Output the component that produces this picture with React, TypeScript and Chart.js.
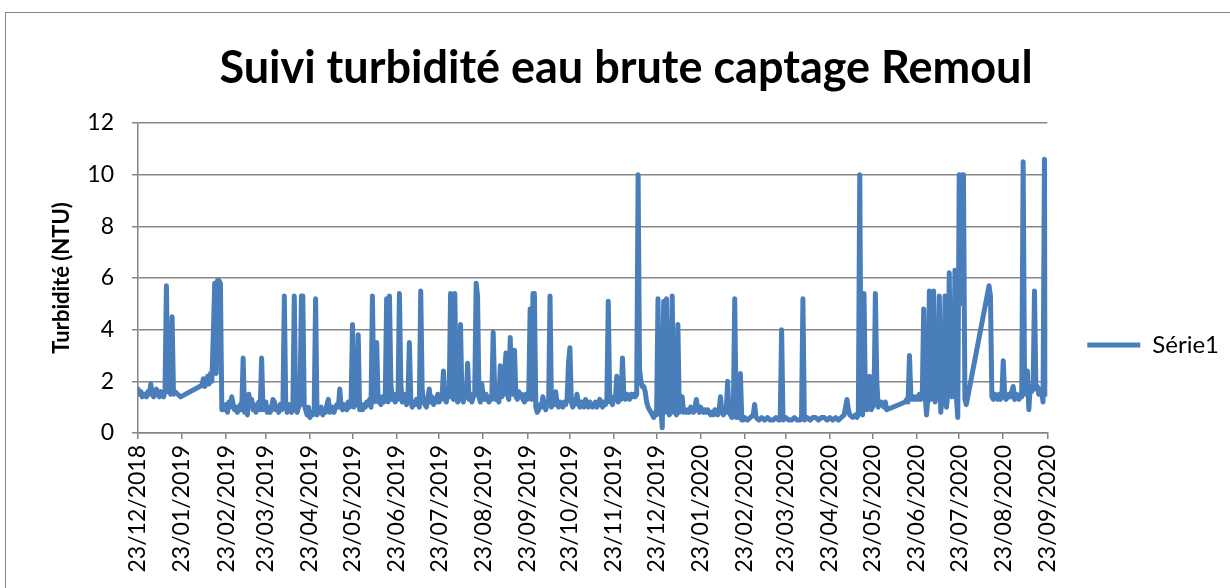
import React, { useEffect, useRef } from "react";
import { Chart, registerables } from "chart.js";

Chart.register(...registerables);

const TITLE = "Suivi turbidité eau brute captage Remoul";
const Y_TITLE = "Turbidité (NTU)";
const SERIES_LABEL = "Série1";
const BLUE = "#4A7EBB";
const GRID = "#868686";
const FONT = "Lato";

// days since 23/12/2018 of each monthly tick
const monthDays = [0, 31, 62, 90, 121, 151, 182, 212, 243, 274, 304, 335, 365, 396, 427, 456, 487, 517, 548, 578, 609, 640];
const monthLabels = [
  "23/12/2018", "23/01/2019", "23/02/2019", "23/03/2019", "23/04/2019", "23/05/2019", "23/06/2019",
  "23/07/2019", "23/08/2019", "23/09/2019", "23/10/2019", "23/11/2019", "23/12/2019", "23/01/2020",
  "23/02/2020", "23/03/2020", "23/04/2020", "23/05/2020", "23/06/2020", "23/07/2020", "23/08/2020",
  "23/09/2020",
];
const yTicks = [0, 2, 4, 6, 8, 10, 12];

// sample day (days since 23/12/2018)
const sampleDays = [
  0, 1, 2, 3, 4, 5, 6, 7, 8, 9, 10, 11, 12, 13, 14, 15, 16, 17, 18, 19,
  20, 21, 22, 23, 24, 25, 26, 28, 30,
  45, 46, 47, 48, 49, 50, 51, 52, 53, 54, 55, 56, 57, 58, 59,
  60, 61, 62, 63, 64, 65, 66, 67, 68, 69, 70, 71, 72, 73, 74, 75, 76, 77, 78, 79,
  80, 81, 82, 83, 84, 85, 86, 87, 88, 89, 90, 91, 92, 93, 94, 95, 96, 97, 98, 99,
  100, 101, 102, 103, 104, 105, 106, 107, 108, 109, 110, 111, 112, 113, 114, 115, 116, 117, 118, 119,
  120, 121, 122, 123, 124, 125, 126, 127, 128, 129, 130, 131, 132, 133, 134, 135, 136, 137, 138, 139,
  140, 141, 142, 143, 144, 145, 146, 147, 148, 149, 150, 151, 152, 153, 154, 155, 156, 157, 158, 159,
  160, 161, 162, 163, 164, 165, 166, 167, 168, 169, 170, 171, 172, 173, 174, 175, 176, 177, 178, 179,
  180, 181, 182, 183, 184, 185, 186, 187, 188, 189, 190, 191, 192, 193, 194, 195, 196, 197, 198, 199,
  200, 201, 202, 203, 204, 205, 206, 207, 208, 209, 210, 211, 212, 213, 214, 215, 216, 217, 218, 219,
  220, 221, 222, 223, 224, 225, 226, 227, 228, 229, 230, 231, 232, 233, 234, 235, 236, 237, 238, 239,
  240, 241, 242, 243, 244, 245, 246, 247, 248, 249, 250, 251, 252, 253, 254, 255, 256, 257, 258, 259,
  260, 261, 262, 263, 264, 265, 266, 267, 268, 269, 270, 271, 272, 273, 274, 275, 276, 277, 278, 279,
  280, 281, 282, 283, 284, 285, 286, 287, 288, 289, 290, 291, 292, 293, 294, 295, 296, 297, 298, 299,
  300, 301, 302, 303, 304, 305, 306, 307, 308, 309, 310, 311, 312, 313, 314, 315, 316, 317, 318, 319,
  320, 321, 322, 323, 324, 325, 326, 327, 328, 329, 330, 331, 332, 333, 334, 335, 336, 337, 338, 339,
  340, 341, 342, 343, 344, 345, 346, 347, 348, 349, 350, 351, 352, 353, 354, 355, 356, 357, 358, 359,
  360, 361, 362, 363, 364, 365, 366, 367, 368, 369, 370, 371, 372, 373, 374, 375, 376, 377, 378, 379,
  380, 381, 382, 383, 384, 385, 386, 387, 388, 389, 390, 391, 392, 393, 394, 395, 396, 397, 398, 399,
  400, 401, 402, 403, 404, 405, 406, 407, 408, 409, 410, 411, 412, 413, 414, 415, 416, 417, 418, 419,
  420, 421, 422, 423, 424, 425, 426, 427,
  429, 431, 433, 434, 435, 437, 439, 441, 443, 445, 447, 449, 451, 452, 453, 454, 456, 458, 460, 462,
  464, 466, 467, 468, 469, 471, 473, 475, 477, 479, 481, 483, 485, 487, 489, 491, 493, 495, 497, 498,
  499, 500, 501, 503, 505, 506, 507,
  508, 509, 510, 511, 512, 513, 514, 515, 516, 517, 518, 519, 520, 521, 522, 523, 524, 525, 526, 527,
  540, 541, 542, 543, 544, 545, 546, 547, 548, 549, 550, 551, 552, 553, 554, 555, 556, 557, 558, 559,
  560, 561, 562, 563, 564, 565, 566, 567, 568, 569, 570, 571, 572, 573, 574, 575, 576, 577, 578, 579,
  580, 581, 582, 583,
  599, 600, 601, 602, 603, 604, 605, 606, 607, 608, 609, 610, 611, 612, 613, 614, 615, 616, 617, 618, 619,
  620, 621, 622, 623, 624, 625, 626, 627, 628, 629, 630, 631, 632, 633, 634, 635, 636, 637, 638, 639, 640,
];

// turbidity in NTU, one per sample day
const turbidity = [
  1.7, 1.5, 1.6, 1.4, 1.5, 1.5, 1.4, 1.6, 1.5, 1.9, 1.5, 1.4, 1.6, 1.7, 1.5, 1.4, 1.6, 1.5, 1.4, 1.6,
  5.7, 1.6, 1.8, 1.5, 4.5, 1.5, 1.6, 1.5, 1.4,
  1.85, 2.1, 1.8, 1.9, 2.2, 1.9, 2.3, 2.0, 3.8, 5.8, 2.3, 5.9, 5.9, 5.8, 0.9,
  1.0, 0.9, 1.1, 0.8, 1.2, 1.0, 1.4, 1.1, 0.9, 1.0, 0.8, 1.0, 1.1, 0.9, 2.9, 0.8, 1.0, 0.7, 1.5, 1.2,
  1.3, 0.9, 1.1, 0.8, 1.0, 1.2, 0.9, 2.9, 0.9, 1.1, 1.2, 0.8, 1.0, 0.8, 0.9, 1.3, 1.2, 0.9, 1.0, 0.8,
  1.1, 0.9, 1.0, 5.3, 1.0, 0.8, 1.1, 0.9, 0.8, 1.0, 5.3, 0.9, 0.8, 1.0, 1.1, 5.3, 5.3, 1.1, 0.9, 0.7,
  1.0, 0.6, 0.8, 0.7, 0.9, 5.2, 0.7, 0.8, 0.9, 1.0, 0.7, 0.9, 0.8, 1.1, 1.3, 0.8, 0.9, 1.0, 0.8, 1.0,
  1.1, 1.0, 1.7, 1.0, 0.9, 1.1, 1.0, 0.9, 1.2, 1.0, 1.3, 4.2, 1.0, 1.2, 1.1, 3.8, 0.9, 1.0, 0.9, 1.1,
  1.0, 1.2, 1.1, 1.3, 1.0, 5.3, 1.2, 1.4, 3.5, 1.2, 1.3, 1.1, 1.4, 1.2, 1.3, 5.2, 1.2, 5.3, 1.9, 1.3,
  1.5, 1.2, 1.4, 1.3, 5.4, 1.9, 1.2, 1.5, 1.3, 1.1, 1.4, 3.5, 1.3, 1.0, 1.2, 1.1, 1.3, 1.2, 1.0, 5.5,
  1.7, 1.2, 1.1, 1.0, 1.3, 1.7, 1.2, 1.4, 1.1, 1.3, 1.2, 1.5, 1.2, 1.3, 1.4, 2.4, 1.3, 1.2, 1.5, 1.4,
  5.4, 1.6, 1.3, 5.4, 1.4, 1.2, 1.5, 4.2, 1.3, 1.2, 1.6, 1.4, 2.7, 1.3, 1.5, 1.2, 1.4, 1.5, 5.8, 5.3,
  1.4, 1.2, 1.9, 1.4, 1.3, 1.5, 1.3, 1.2, 1.4, 1.3, 3.9, 1.7, 1.3, 1.4, 1.2, 2.6, 1.4, 1.5, 2.3, 3.1,
  1.5, 1.3, 3.7, 1.6, 1.5, 3.2, 1.4, 1.3, 1.6, 1.4, 1.5, 1.3, 1.2, 1.5, 1.3, 1.4, 4.8, 1.3, 5.4, 5.4,
  1.0, 0.8, 0.9, 1.1, 1.0, 1.4, 1.1, 0.9, 1.2, 1.1, 5.3, 1.0, 1.2, 1.1, 1.6, 1.1, 1.0, 1.2, 1.1, 1.0,
  1.2, 1.1, 1.3, 2.7, 3.3, 1.2, 1.0, 1.1, 1.2, 1.5, 1.1, 1.0, 1.2, 1.1, 1.0, 1.3, 1.1, 1.0, 1.2, 1.1,
  1.0, 1.1, 1.2, 1.0, 1.1, 1.3, 1.2, 1.0, 1.2, 1.1, 1.3, 5.1, 1.2, 1.3, 1.1, 1.4, 1.3, 2.2, 1.2, 1.4,
  1.3, 2.9, 1.4, 1.3, 1.5, 1.4, 1.3, 1.5, 1.4, 1.5, 1.4, 1.5, 10.0, 2.5, 2.0, 1.8, 1.8, 1.6, 1.2, 1.0,
  0.9, 0.8, 0.7, 0.6, 0.8, 0.7, 5.2, 0.8, 1.0, 0.2, 5.1, 0.8, 5.2, 0.9, 0.7, 0.8, 5.3, 0.8, 0.9, 0.7,
  4.2, 0.8, 0.9, 1.4, 0.8, 0.9, 0.8, 0.9, 0.8, 1.0, 0.9, 0.8, 1.0, 1.3, 0.9, 0.8, 1.0, 0.9, 0.8, 0.9,
  0.8, 0.9, 0.8, 0.7, 0.8, 0.7, 0.9, 0.8, 0.7, 0.9, 1.4, 0.8, 0.7, 0.9, 0.8, 2.0, 0.8, 0.7, 0.6, 0.7,
  5.2, 0.6, 0.7, 0.6, 2.3, 0.5, 0.5, 0.6,
  0.5, 0.6, 0.7, 1.1, 0.6, 0.5, 0.6, 0.5, 0.6, 0.5, 0.5, 0.6, 0.5, 0.5, 4.0, 0.5, 0.6, 0.5, 0.5, 0.6,
  0.5, 0.5, 0.6, 5.2, 0.5, 0.6, 0.5, 0.6, 0.6, 0.5, 0.6, 0.6, 0.5, 0.6, 0.5, 0.6, 0.5, 0.6, 0.7, 1.0,
  1.3, 0.9, 0.7, 0.6, 0.7, 0.6, 0.7,
  10.0, 0.8, 0.7, 5.4, 1.2, 0.9, 1.0, 2.2, 0.9, 1.0, 1.1, 5.4, 2.0, 1.0, 1.1, 1.2, 1.1, 1.0, 1.2, 0.9,
  1.2, 1.3, 1.2, 3.0, 1.4, 1.3, 1.4, 1.3, 1.4, 1.3, 1.5, 1.3, 1.4, 4.8, 1.5, 0.7, 1.4, 5.5, 1.3, 1.5,
  5.5, 1.2, 1.4, 1.5, 5.3, 0.8, 1.4, 1.5, 5.3, 1.0, 1.5, 6.2, 1.5, 1.4, 1.7, 6.3, 1.4, 0.6, 10.0, 5.0,
  10.0, 10.0, 1.3, 1.1,
  5.7, 5.3, 1.4, 1.3, 1.5, 1.4, 1.3, 1.5, 1.3, 1.4, 2.8, 1.5, 1.3, 1.4, 1.5, 1.4, 1.6, 1.8, 1.3, 1.5, 1.4,
  1.3, 1.5, 1.4, 10.5, 1.9, 1.5, 2.4, 0.9, 1.8, 1.6, 1.7, 5.5, 1.7, 1.8, 1.5, 1.7, 1.6, 1.2, 10.6, 1.5, 4.5,
];

export default function App() {
  const ref = useRef<HTMLCanvasElement | null>(null);

  useEffect(() => {
    if (!ref.current) return;
    const points = sampleDays.map((d, i) => ({ x: d, y: turbidity[i] }));
    const tickFont = { family: FONT, size: 23 };
    const chart = new Chart(ref.current, {
      type: "line",
      data: {
        datasets: [
          {
            label: SERIES_LABEL,
            data: points,
            borderColor: BLUE,
            backgroundColor: BLUE,
            borderWidth: 5,
            pointRadius: 0,
            tension: 0,
            borderJoinStyle: "round",
            borderCapStyle: "round",
          },
        ],
      },
      options: {
        animation: false,
        responsive: false,
        maintainAspectRatio: false,
        layout: { padding: { left: 23, right: 31, top: 0, bottom: 0 } },
        plugins: {
          title: {
            display: true,
            text: TITLE,
            color: "#000",
            font: { family: FONT, size: 45, weight: "bold" },
            padding: { top: 41, bottom: 28 },
          },
          legend: {
            position: "right",
            align: "start",
            title: { display: true, text: "", font: { size: 10 }, padding: { top: 281, bottom: 0 } },
            labels: {
              color: "#000",
              font: { family: FONT, size: 24 },
              usePointStyle: true,
              pointStyle: "line",
              pointStyleWidth: 53,
              boxHeight: 24,
              padding: 40,
            },
          },
          tooltip: { enabled: false },
        },
        scales: {
          x: {
            type: "linear",
            min: 0,
            max: 640,
            afterBuildTicks: (s: any) => {
              s.ticks = monthDays.map((v) => ({ value: v }));
            },
            afterFit: (s: any) => {
              s.height = 167;
            },
            ticks: {
              autoSkip: false,
              maxRotation: 90,
              minRotation: 90,
              color: "#000",
              font: tickFont,
              padding: 6,
              callback: (v: any) => {
                const i = monthDays.indexOf(Number(v));
                return i >= 0 ? monthLabels[i] : "";
              },
            },
            grid: { drawOnChartArea: false, color: GRID, tickLength: 6, lineWidth: 1.5 },
            border: { color: GRID, width: 1.5 },
          },
          y: {
            min: 0,
            max: 12,
            afterBuildTicks: (s: any) => {
              s.ticks = yTicks.map((v) => ({ value: v }));
            },
            afterFit: (s: any) => {
              s.width = 115;
            },
            ticks: { color: "#000", font: tickFont, padding: 18 },
            grid: { color: GRID, lineWidth: 1.5, tickLength: 6 },
            border: { color: GRID, width: 1.5 },
            title: {
              display: true,
              text: Y_TITLE,
              color: "#000",
              font: { family: FONT, size: 22, weight: "bold" },
              padding: { top: 26, bottom: 0 },
            },
          },
        },
      },
    });
    return () => chart.destroy();
  }, []);

  return (
    <div
      style={{
        position: "fixed",
        left: 0,
        top: 0,
        width: 1230,
        height: 588,
        overflow: "hidden",
        background: "#fff",
      }}
    >
      <div
        style={{
          position: "absolute",
          left: 5,
          top: 12,
          width: 1260,
          height: 620,
          border: `1px solid ${GRID}`,
        }}
      />
      <canvas ref={ref} width={1260} height={600} style={{ position: "absolute", left: 0, top: 0 }} />
    </div>
  );
}
